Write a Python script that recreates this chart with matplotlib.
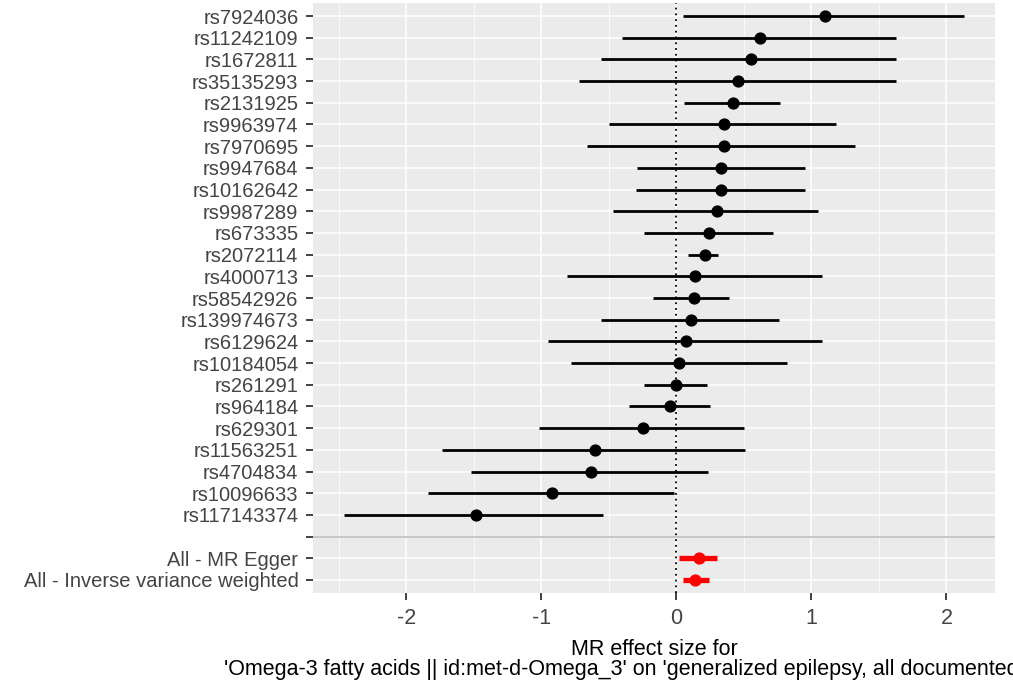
import matplotlib
matplotlib.use("Agg")
import matplotlib.pyplot as plt
from matplotlib.ticker import MultipleLocator

snps = ["rs7924036", "rs11242109", "rs1672811", "rs35135293", "rs2131925",
        "rs9963974", "rs7970695", "rs9947684", "rs10162642", "rs9987289",
        "rs673335", "rs2072114", "rs4000713", "rs58542926", "rs139974673",
        "rs6129624", "rs10184054", "rs261291", "rs964184", "rs629301",
        "rs11563251", "rs4704834", "rs10096633", "rs117143374"]
snp_b = [1.10, 0.62, 0.55, 0.46, 0.42, 0.35, 0.35, 0.33, 0.33, 0.30,
         0.245, 0.21, 0.14, 0.13, 0.11, 0.07, 0.02, 0.00, -0.05, -0.25,
         -0.60, -0.63, -0.92, -1.48]
snp_lo = [0.05, -0.40, -0.56, -0.72, 0.06, -0.50, -0.66, -0.29, -0.30, -0.47,
          -0.24, 0.09, -0.81, -0.17, -0.56, -0.95, -0.78, -0.24, -0.35, -1.02,
          -1.735, -1.52, -1.84, -2.46]
snp_hi = [2.13, 1.63, 1.63, 1.63, 0.77, 1.18, 1.32, 0.95, 0.95, 1.05,
          0.715, 0.31, 1.08, 0.39, 0.76, 1.08, 0.82, 0.225, 0.25, 0.50,
          0.51, 0.235, -0.02, -0.54]

methods = ["All - MR Egger", "All - Inverse variance weighted"]
meth_b = [0.17, 0.135]
meth_lo = [0.02, 0.05]
meth_hi = [0.30, 0.24]

xticks = [-2, -1, 0, 1, 2]
xlabel = ("MR effect size for\n'Omega-3 fatty acids || id:met-d-Omega_3' on "
          "'generalized epilepsy, all documented cases'")

labels = snps + [""] + methods
n = len(labels)
ypos = {lab: n - i for i, lab in enumerate(labels)}

plt.rcParams['font.family'] = ['Liberation Sans', 'DejaVu Sans']
fig = plt.figure(figsize=(10.13, 6.83), dpi=100)
ax = fig.add_axes([313 / 1013, 1 - 593 / 683, (995 - 313) / 1013, 590 / 683])
ax.set_facecolor("#EBEBEB")
for s in ax.spines.values():
    s.set_visible(False)

ax.set_xlim(-2.69, 2.36)
ax.set_ylim(0.4, n + 0.6)
ax.set_xticks(xticks)
ax.set_xticklabels([str(t) for t in xticks])
ax.xaxis.set_minor_locator(MultipleLocator(0.5))
ax.set_yticks([ypos[l] for l in labels])
ax.set_yticklabels(labels)

ax.grid(which="major", color="white", linewidth=1.1)
ax.grid(which="minor", axis="x", color="white", linewidth=0.55)
ax.set_axisbelow(True)

ax.tick_params(axis="y", which="major", length=5, width=1.3, color="#333333",
               labelsize=14.5, labelcolor="#444444", pad=5.5)
ax.tick_params(axis="x", which="major", length=5, width=1.3, color="#333333",
               labelsize=15.5, labelcolor="#444444", pad=6)
ax.tick_params(axis="x", which="minor", length=0)

ax.axvline(0, color="black", linestyle=(0, (1, 2.2)), linewidth=1.3, zorder=2)
ax.axhline(ypos[""], color="#BEBEBE", linewidth=1.2, zorder=2)

for lab, b, lo, hi in zip(snps, snp_b, snp_lo, snp_hi):
    y = ypos[lab]
    ax.plot([lo, hi], [y, y], color="black", linewidth=2.0, solid_capstyle="butt", zorder=3)
    ax.plot([b], [y], marker="o", color="black", markersize=7.8, zorder=4)

for lab, b, lo, hi in zip(methods, meth_b, meth_lo, meth_hi):
    y = ypos[lab]
    ax.plot([lo, hi], [y, y], color="red", linewidth=3.8, solid_capstyle="butt", zorder=3)
    ax.plot([b], [y], marker="o", color="red", markersize=7.8, zorder=4)

ax.set_xlabel(xlabel, fontsize=15.5, color="black", labelpad=7, linespacing=0.95)

fig.savefig("out.png", dpi=100)
